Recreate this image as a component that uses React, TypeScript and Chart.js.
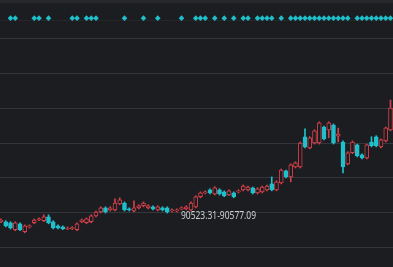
import React, { useEffect, useRef } from "react";
import { Chart, registerables } from "chart.js";

Chart.register(...registerables);

const opens = [
  90473, 90473, 90470, 90450, 90467, 90444, 90458, 90470, 90478, 90476,
  90487, 90473, 90461, 90458, 90452, 90453, 90450, 90473, 90470, 90473,
  90490, 90501, 90513, 90507, 90507, 90524, 90527, 90510, 90504, 90513,
  90519, 90513, 90516, 90507, 90513, 90513, 90504, 90504, 90510, 90510,
  90507, 90516, 90545, 90556, 90565, 90553, 90565, 90559, 90550, 90556,
  90559, 90565, 90565, 90571, 90556, 90559, 90565, 90582, 90565, 90585,
  90620, 90602, 90631, 90631, 90718, 90686, 90700, 90700, 90746, 90738,
  90752, 90720, 90703, 90640, 90672, 90695, 90666, 90657, 90703, 90718,
  90689, 90706, 90738,
];
const highs = [
  90481, 90476, 90473, 90473, 90470, 90464, 90464, 90481, 90484, 90493,
  90493, 90476, 90464, 90461, 90458, 90459, 90470, 90481, 90484, 90493,
  90504, 90516, 90516, 90516, 90539, 90542, 90530, 90513, 90533, 90522,
  90530, 90522, 90519, 90519, 90516, 90516, 90510, 90510, 90516, 90519,
  90530, 90548, 90559, 90562, 90568, 90574, 90568, 90562, 90565, 90559,
  90565, 90579, 90576, 90573, 90571, 90576, 90579, 90602, 90591, 90625,
  90622, 90640, 90646, 90703, 90741, 90718, 90738, 90761, 90749, 90761,
  90755, 90743, 90706, 90675, 90706, 90697, 90669, 90697, 90718, 90721,
  90712, 90746, 90824,
];
const lows = [
  90470, 90458, 90452, 90447, 90447, 90441, 90455, 90467, 90476, 90473,
  90467, 90452, 90452, 90450, 90450, 90450, 90447, 90470, 90467, 90470,
  90487, 90498, 90498, 90504, 90504, 90522, 90504, 90504, 90501, 90510,
  90516, 90510, 90507, 90504, 90504, 90498, 90501, 90501, 90507, 90507,
  90504, 90513, 90542, 90553, 90553, 90550, 90550, 90545, 90548, 90542,
  90556, 90562, 90562, 90553, 90553, 90556, 90562, 90562, 90562, 90582,
  90599, 90588, 90628, 90628, 90686, 90683, 90697, 90697, 90709, 90715,
  90697, 90703, 90614, 90637, 90669, 90660, 90654, 90654, 90689, 90689,
  90686, 90703, 90735,
];
const closes = [
  90478, 90461, 90455, 90470, 90450, 90461, 90461, 90478, 90481, 90487,
  90470, 90455, 90455, 90452, 90455, 90456, 90467, 90478, 90481, 90490,
  90501, 90513, 90501, 90513, 90527, 90536, 90507, 90507, 90513, 90519,
  90527, 90519, 90510, 90516, 90507, 90501, 90507, 90507, 90513, 90516,
  90527, 90545, 90556, 90559, 90556, 90571, 90553, 90548, 90562, 90545,
  90562, 90576, 90573, 90556, 90568, 90573, 90576, 90565, 90588, 90622,
  90602, 90637, 90643, 90700, 90689, 90715, 90735, 90758, 90712, 90758,
  90700, 90726, 90631, 90672, 90703, 90663, 90657, 90695, 90692, 90692,
  90709, 90744, 90801,
];
const signalIndices = [
  2, 3, 7, 8, 10, 15, 16, 18, 19, 20, 26, 30, 33, 38, 41, 42, 43, 45, 47, 49,
  51, 52, 54, 55, 56, 57, 59, 61, 62, 63, 64, 65, 66, 67, 68, 69, 70, 71, 72,
  73, 75, 76, 77, 78, 79, 80, 81, 82,
];
const signalLevel = 91060;
const gridTicks = [91052, 91000, 90900, 90800, 90700, 90600, 90500, 90400];
const rangeLabel = "90523.31-90577.09";

const BG = "#1c1d21";
const RED = "#d3404a";
const CYAN = "#1fc0cc";

export default function App() {
  const ref = useRef<HTMLCanvasElement>(null);
  useEffect(() => {
    document.body.style.margin = "0";
    const up = opens.map((o, i) => closes[i] >= o);
    const labelPlugin = {
      id: "rangeLabel",
      beforeDraw(chart: any) {
        const { ctx, width } = chart;
        ctx.save();
        ctx.fillStyle = BG;
        ctx.fillRect(0, 0, width, chart.height);
        ctx.fillStyle = "#26282c";
        ctx.fillRect(0, 0, width, 3);
        ctx.restore();
      },
      afterDatasetsDraw(chart: any) {
        const { ctx } = chart;
        ctx.save();
        ctx.font = "10px 'Noto Sans', sans-serif";
        ctx.fillStyle = "#cfd0d2";
        ctx.textBaseline = "middle";
        const w = ctx.measureText(rangeLabel).width;
        const sx = 75 / w;
        ctx.translate(181, 216);
        ctx.scale(sx, 1);
        ctx.fillText(rangeLabel, 0, 0);
        ctx.restore();
      },
    };
    const chart = new Chart(ref.current!, {
      type: "bar",
      data: {
        datasets: [
          {
            type: "line",
            data: signalIndices.map((i) => ({ x: i, y: signalLevel })),
            showLine: false,
            pointStyle: "rectRot",
            pointRadius: 2.8,
            pointBackgroundColor: CYAN,
            pointBorderColor: CYAN,
            pointBorderWidth: 0,
          } as any,
          {
            data: opens.map((o, i) => ({ x: i, y: [o, closes[i]] })),
            backgroundColor: up.map((u) => (u ? BG : CYAN)),
            borderColor: up.map((u) => (u ? RED : CYAN)),
            borderWidth: 1,
            borderSkipped: false,
            barThickness: 4,
            grouped: false,
          } as any,
          {
            data: lows.map((l, i) => ({ x: i, y: [l, highs[i]] })),
            backgroundColor: up.map((u) => (u ? RED : CYAN)),
            borderWidth: 0,
            barThickness: 1,
            grouped: false,
          } as any,
        ],
      },
      options: {
        responsive: false,
        animation: false,
        layout: { padding: 0, autoPadding: false },
        plugins: { legend: { display: false }, tooltip: { enabled: false } },
        scales: {
          x: {
            type: "linear",
            min: -0.21,
            max: 82.53,
            offset: false,
            display: false,
          },
          y: {
            min: 90342.4,
            max: 91112.4,
            afterBuildTicks: (s: any) => {
              s.ticks = gridTicks.map((v) => ({ value: v }));
            },
            ticks: { display: false, padding: 0 },
            border: { display: false },
            grid: {
              drawTicks: false,
              tickLength: 0,
              color: (c: any) => (c.tick && c.tick.value === 91052 ? "#25272b" : "#34363b"),
              lineWidth: 1,
            },
          },
        },
      },
      plugins: [labelPlugin],
    });
    return () => chart.destroy();
  }, []);
  return (
    <div style={{ position: "fixed", left: 0, top: 0, width: 393, height: 267 }}>
      <canvas ref={ref} width={393} height={267} />
    </div>
  );
}
